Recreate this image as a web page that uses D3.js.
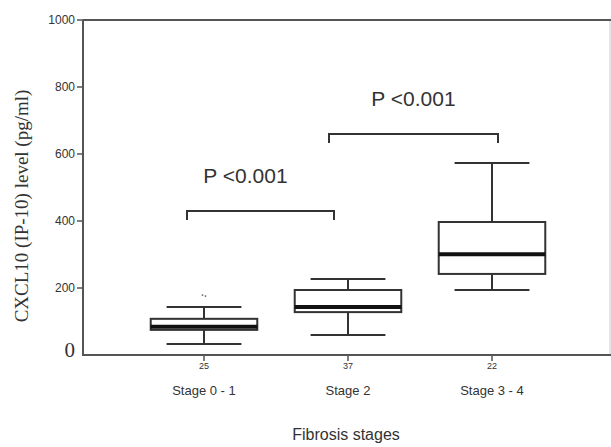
<!DOCTYPE html>
<html>
<head>
<style>
  body { margin: 0; background: #fff; }
  text { fill: #333; }
</style>
</head>
<body>
<script src="https://d3js.org/d3.v7.min.js"></script>
<script>
// data
let stages = ["Stage 0 - 1", "Stage 2", "Stage 3 - 4"];
let counts = ["25", "37", "22"];
let lowWhisker = [33, 60, 194];
let q1 = [75, 128, 242];
let medians = [84, 143, 301];
let q3 = [108, 194, 397];
let highWhisker = [143, 227, 573];
let outliers = [[0, 179]];            // [stage index, value]
let yTicks = [200, 400, 600, 800, 1000];
let pBrackets = [
  { from: 0, to: 1, y: 430, label: "P <0.001" },
  { from: 1, to: 2, y: 660, label: "P <0.001" }
];

let width = 611, height = 447;
let svg = d3.select("body").append("svg")
    .attr("width", width)
    .attr("height", height);

let y = d3.scaleLinear().domain([0, 1000]).range([355, 20]);
let x = d3.scaleBand().domain(stages).range([132, 564]);
let cx = i => x(stages[i]) + x.bandwidth() / 2;
let boxW = x.bandwidth() * 0.74;
let capW = x.bandwidth() * 0.52;
let ink = "#333";

// frame
svg.append("rect")
    .attr("x", 83).attr("y", 20)
    .attr("width", 527).attr("height", 335)
    .attr("fill", "none").attr("stroke", "#ccc").attr("stroke-width", 1);
svg.append("line").attr("x1", 83).attr("x2", 611).attr("y1", 20).attr("y2", 20)
    .attr("stroke", "#555").attr("stroke-width", 2);
svg.append("line").attr("x1", 83).attr("x2", 83).attr("y1", 20).attr("y2", 356)
    .attr("stroke", "#555").attr("stroke-width", 2);
svg.append("line").attr("x1", 82).attr("x2", 611).attr("y1", 355).attr("y2", 355)
    .attr("stroke", "#555").attr("stroke-width", 2);

// y ticks
svg.selectAll(".ytick")
    .data(yTicks)
    .join("line")
    .attr("x1", 77).attr("x2", 83)
    .attr("y1", d => y(d)).attr("y2", d => y(d))
    .attr("stroke", "#555").attr("stroke-width", 1.5);
svg.selectAll(".ylab")
    .data(yTicks)
    .join("text")
    .attr("x", 75).attr("y", d => y(d) + 4)
    .attr("text-anchor", "end")
    .attr("font-family", "Liberation Sans, Arial, sans-serif")
    .attr("font-size", 12)
    .text(d => d);
svg.append("text")
    .attr("x", 75).attr("y", y(0) + 2)
    .attr("text-anchor", "end")
    .attr("font-family", "Liberation Serif, Times New Roman, serif")
    .attr("font-size", 21)
    .text("0");

// y axis title
svg.append("text")
    .attr("transform", "translate(28,206) rotate(-90)")
    .attr("text-anchor", "middle")
    .attr("font-family", "Liberation Serif, Times New Roman, serif")
    .attr("font-size", 19)
    .text("CXCL10 (IP-10) level (pg/ml)");

// x ticks and labels
stages.forEach((s, i) => {
  svg.append("line")
      .attr("x1", cx(i)).attr("x2", cx(i))
      .attr("y1", 355).attr("y2", 361)
      .attr("stroke", "#555").attr("stroke-width", 1.5);
  svg.append("text")
      .attr("x", cx(i)).attr("y", 369)
      .attr("text-anchor", "middle")
      .attr("font-family", "Liberation Sans, Arial, sans-serif")
      .attr("font-size", 9)
      .text(counts[i]);
  svg.append("text")
      .attr("x", cx(i)).attr("y", 395)
      .attr("text-anchor", "middle")
      .attr("font-family", "Liberation Sans, Arial, sans-serif")
      .attr("font-size", 13)
      .text(s);
});
svg.append("text")
    .attr("x", 346).attr("y", 440)
    .attr("text-anchor", "middle")
    .attr("font-family", "Liberation Sans, Arial, sans-serif")
    .attr("font-size", 16)
    .text("Fibrosis stages");

// boxes
let g = svg.selectAll(".box")
    .data(stages)
    .join("g")
    .attr("class", "box");
g.append("line")
    .attr("x1", (d, i) => cx(i)).attr("x2", (d, i) => cx(i))
    .attr("y1", (d, i) => y(lowWhisker[i])).attr("y2", (d, i) => y(highWhisker[i]))
    .attr("stroke", ink).attr("stroke-width", 2);
g.append("line")
    .attr("x1", (d, i) => cx(i) - capW / 2).attr("x2", (d, i) => cx(i) + capW / 2)
    .attr("y1", (d, i) => y(highWhisker[i])).attr("y2", (d, i) => y(highWhisker[i]))
    .attr("stroke", ink).attr("stroke-width", 2);
g.append("line")
    .attr("x1", (d, i) => cx(i) - capW / 2).attr("x2", (d, i) => cx(i) + capW / 2)
    .attr("y1", (d, i) => y(lowWhisker[i])).attr("y2", (d, i) => y(lowWhisker[i]))
    .attr("stroke", ink).attr("stroke-width", 2);
g.append("rect")
    .attr("x", (d, i) => cx(i) - boxW / 2)
    .attr("width", boxW)
    .attr("y", (d, i) => y(q3[i]))
    .attr("height", (d, i) => y(q1[i]) - y(q3[i]))
    .attr("fill", "#fff").attr("stroke", ink).attr("stroke-width", 2);
g.append("line")
    .attr("x1", (d, i) => cx(i) - boxW / 2).attr("x2", (d, i) => cx(i) + boxW / 2)
    .attr("y1", (d, i) => y(medians[i])).attr("y2", (d, i) => y(medians[i]))
    .attr("stroke", "#111").attr("stroke-width", 4);

// outliers
outliers.forEach(o => {
  [-1.5, 1.5].forEach((dx, k) => {
    svg.append("circle")
        .attr("cx", cx(o[0]) + dx).attr("cy", y(o[1]) + k)
        .attr("r", 0.9).attr("fill", "#666");
  });
});

// significance brackets
let bracketOffsets = [[-17, -14], [-19, 6]];
pBrackets.forEach((b, i) => {
  let x1 = cx(b.from) + bracketOffsets[i][0];
  let x2 = cx(b.to) + bracketOffsets[i][1];
  let yy = y(b.y);
  svg.append("path")
      .attr("d", `M${x1},${yy + 9}V${yy}H${x2}V${yy + 9}`)
      .attr("fill", "none").attr("stroke", ink).attr("stroke-width", 2);
  svg.append("text")
      .attr("x", (x1 + x2) / 2 + (i === 0 ? -15 : 0))
      .attr("y", yy - 28)
      .attr("text-anchor", "middle")
      .attr("font-family", "Liberation Sans, Arial, sans-serif")
      .attr("font-size", 21)
      .text(b.label);
});
</script>
</body>
</html>
